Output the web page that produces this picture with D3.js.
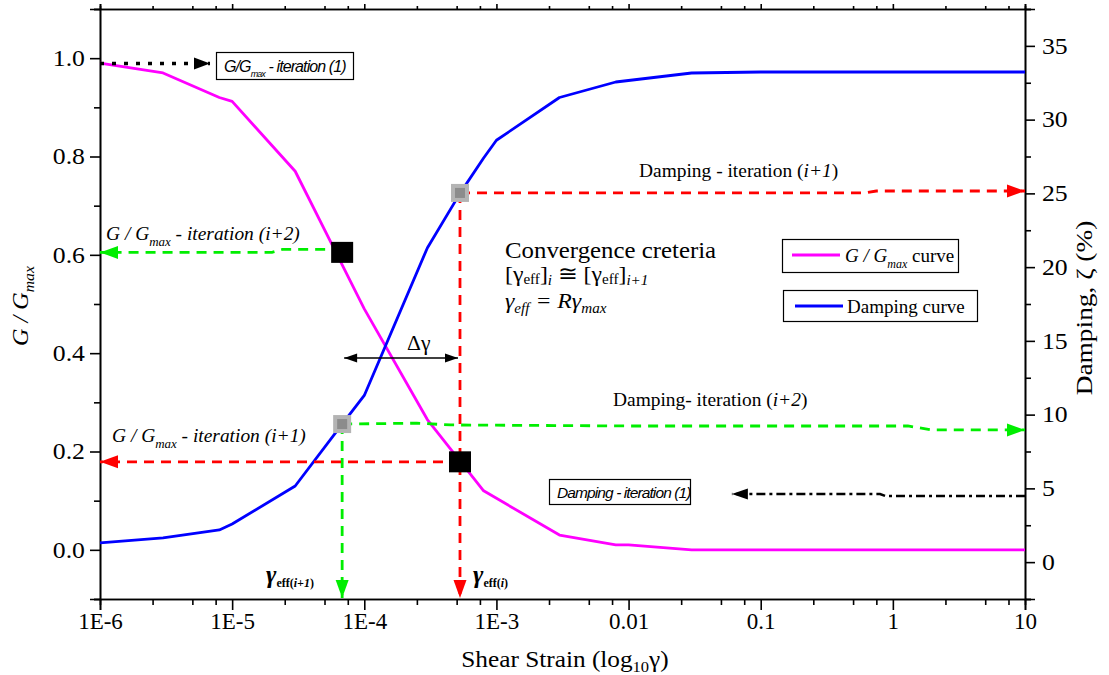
<!DOCTYPE html>
<html><head><meta charset="utf-8">
<script src="https://cdn.jsdelivr.net/npm/d3@7"></script>
<style>body{margin:0;background:#fff}svg{display:block}</style>
</head><body>
<svg id="chart" width="1109" height="675"></svg>
<script>
// Modulus reduction curve (G/Gmax vs shear strain)
const modulusStrain = [1e-6, 3e-6, 8e-6, 1e-5, 3e-5, 1e-4, 3e-4, 8e-4, 3e-3, 8e-3, 1e-2, 3e-2, 10];
const modulusRatio  = [0.99, 0.97, 0.92, 0.912, 0.77, 0.49, 0.265, 0.12, 0.03, 0.01, 0.01, 0.0, 0.0];

// Damping curve (%) vs shear strain
const dampingStrain = [1e-6, 3e-6, 8e-6, 1e-5, 3e-5, 6.8e-5, 1e-4, 3e-4, 5.3e-4, 8e-4, 1e-3, 3e-3, 8e-3, 3e-2, 0.1, 10];
const dampingRatio  = [1.3, 1.64, 2.18, 2.58, 5.16, 9.36, 11.3, 21.3, 25.0, 27.4, 28.6, 31.5, 32.55, 33.16, 33.23, 33.23];

// Effective strains of two successive iterations
const gammaEffI  = 5.3e-4;
const gammaEffI1 = 6.8e-5;

// Iteration read-offs
const gIter1   = [[1e-6, 0.989], [6.8e-6, 0.989]];
const gIterI1  = [[gammaEffI, 0.179], [1e-6, 0.179]];
const gIterI2  = [[gammaEffI1, 0.611], [2.4e-5, 0.611], [2.0e-5, 0.605], [1e-6, 0.605]];
const dIter1   = [[10, 4.48], [0.88, 4.48], [0.8, 4.62], [0.0605, 4.62]];
const dIterI1  = [[gammaEffI, 25.03], [0.62, 25.03], [0.75, 25.16], [10, 25.16]];
const dIterI2  = [[gammaEffI1, 9.36], [2.5e-4, 9.42], [4.5e-4, 9.3], [0.01, 9.23], [1.3, 9.23], [2.0, 8.96], [10, 8.96]];

// Axis ticks
const strainMajor = [1e-6, 1e-5, 1e-4, 1e-3, 1e-2, 0.1, 1, 10];
const strainLabels = ["1E-6", "1E-5", "1E-4", "1E-3", "0.01", "0.1", "1", "10"];
const strainMinorFactors = [2.5, 5, 7.5];
const ratioMajor = [0, 0.2, 0.4, 0.6, 0.8, 1.0];
const ratioMinor = [-0.1, 0.1, 0.3, 0.5, 0.7, 0.9, 1.1];
const dampMajor = [0, 5, 10, 15, 20, 25, 30, 35];
const dampMinor = [-2.5, 2.5, 7.5, 12.5, 17.5, 22.5, 27.5, 32.5, 37.5];

const SERIF = "'Liberation Serif','Times New Roman',serif";
const SANS = "'Liberation Sans',Arial,sans-serif";
const SX = 1.08; // horizontal text stretch

const svg = d3.select("#chart");
const L = 100, R = 1025, T = 9, B = 599;
const x = d3.scaleLog().domain([1e-6, 10]).range([L, R]);
const yL = d3.scaleLinear().domain([-0.1, 1.1]).range([B, T]);
const yR = d3.scaleLinear().domain([-2.5, 37.5]).range([B, T]);

const strainMinor = [];
for (let e = -6; e < 1; e++) strainMinorFactors.forEach(f => strainMinor.push(f * Math.pow(10, e)));

function styleAxis(g, size) {
  g.select(".domain").attr("stroke", "#000").attr("stroke-width", 1.6);
  g.selectAll(".tick line").attr("stroke", "#000").attr("stroke-width", 1.6);
  g.selectAll(".tick text").attr("font-family", SERIF).attr("font-size", size || 23).attr("fill", "#000");
}

// bottom axis
const gb = svg.append("g").attr("transform", `translate(0,${B})`);
gb.call(d3.axisBottom(x).tickValues(strainMajor).tickFormat((d, i) => strainLabels[i]).tickSize(11).tickPadding(3));
styleAxis(gb);
const gbm = svg.append("g").attr("transform", `translate(0,${B})`);
gbm.call(d3.axisBottom(x).tickValues(strainMinor).tickFormat("").tickSize(6));
styleAxis(gbm);
// top axis
const gt = svg.append("g").attr("transform", `translate(0,${T})`);
gt.call(d3.axisTop(x).tickValues(strainMajor).tickFormat("").tickSize(5));
styleAxis(gt);
const gtm = svg.append("g").attr("transform", `translate(0,${T})`);
gtm.call(d3.axisTop(x).tickValues(strainMinor).tickFormat("").tickSize(3));
styleAxis(gtm);
// left axis
const gl = svg.append("g").attr("transform", `translate(${L},0)`);
gl.call(d3.axisLeft(yL).tickValues(ratioMajor).tickFormat(d3.format(".1f")).tickSize(10).tickPadding(4));
styleAxis(gl);
gl.selectAll(".tick text").attr("transform", "scale(1.12,1)").attr("x", -15 / 1.12);
const glm = svg.append("g").attr("transform", `translate(${L},0)`);
glm.call(d3.axisLeft(yL).tickValues(ratioMinor).tickFormat("").tickSize(6));
styleAxis(glm);
// right axis
const gr = svg.append("g").attr("transform", `translate(${R},0)`);
gr.call(d3.axisRight(yR).tickValues(dampMajor).tickFormat(d3.format("d")).tickSize(10).tickPadding(6));
styleAxis(gr);
gr.selectAll(".tick text").attr("transform", "scale(1.12,1)").attr("x", 17 / 1.12);
const grm = svg.append("g").attr("transform", `translate(${R},0)`);
grm.call(d3.axisRight(yR).tickValues(dampMinor).tickFormat("").tickSize(6));
styleAxis(grm);

// rich text helper: segments {t, i, b, fs, dy}
function rich(px, py, segs, o) {
  o = o || {};
  const g = svg.append("g").attr("transform", `translate(${px},${py}) rotate(${o.rot || 0}) scale(${o.sx || SX},1)`);
  const t = g.append("text").attr("x", 0).attr("y", 0)
    .attr("font-family", o.ff || SERIF).attr("font-size", o.fs || 18)
    .attr("text-anchor", o.anchor || "start").attr("fill", "#000")
    .attr("letter-spacing", o.ls || 0);
  if (o.i) t.attr("font-style", "italic");
  if (o.b) t.attr("font-weight", "bold");
  segs.forEach(s => {
    const ts = t.append("tspan").text(s.t);
    if (s.i !== undefined) ts.attr("font-style", s.i ? "italic" : "normal");
    if (s.b) ts.attr("font-weight", "bold");
    if (s.fs) ts.attr("font-size", s.fs);
    if (s.dy) ts.attr("dy", s.dy);
  });
  return t;
}

// curves
const lineG = d3.line().x((d, i) => x(modulusStrain[i])).y(d => yL(d));
svg.append("path").attr("d", lineG(modulusRatio)).attr("fill", "none")
  .attr("stroke", "#ff00ff").attr("stroke-width", 2.8).attr("stroke-linejoin", "round");
const lineD = d3.line().x((d, i) => x(dampingStrain[i])).y(d => yR(d));
svg.append("path").attr("d", lineD(dampingRatio)).attr("fill", "none")
  .attr("stroke", "#0000ff").attr("stroke-width", 2.8).attr("stroke-linejoin", "round");

// arrow helper in pixel coordinates
function arrow(pts, color, dash, width, headL, headW, startHead) {
  svg.append("path").attr("d", d3.line()(pts)).attr("fill", "none")
    .attr("stroke", color).attr("stroke-width", width).attr("stroke-dasharray", dash || null);
  const head = (tip, prev) => {
    const a = Math.atan2(tip[1] - prev[1], tip[0] - prev[0]);
    const bx = tip[0] - headL * Math.cos(a), by = tip[1] - headL * Math.sin(a);
    const nx = -Math.sin(a) * headW, ny = Math.cos(a) * headW;
    svg.append("path").attr("d", `M${tip[0]},${tip[1]}L${bx + nx},${by + ny}L${bx - nx},${by - ny}Z`).attr("fill", color);
  };
  const n = pts.length;
  head(pts[n - 1], pts[n - 2]);
  if (startHead) head(pts[0], pts[1]);
}
const PL = p => [x(p[0]), yL(p[1])];
const PR = p => [x(p[0]), yR(p[1])];

const RED = "#ff0000", GREEN = "#00ee00";

// vertical read-downs to the strain axis
arrow([[x(gammaEffI1), yR(9.36)], [x(gammaEffI1), B - 1]], GREEN, "10,7", 2.8, 18, 6.5);
arrow([[x(gammaEffI), yR(25.03)], [x(gammaEffI), B - 1]], RED, "10,7", 2.8, 18, 6.5);

// horizontal read-offs
arrow(gIterI2.map(PL), GREEN, "10,7", 2.8, 18, 6.5);
arrow(gIterI1.map(PL), RED, "10,7", 2.8, 18, 6.5);
arrow(dIterI1.map(PR), RED, "10,7", 2.8, 18, 6.5);
arrow(dIterI2.map(PR), GREEN, "10,7", 2.8, 18, 6.5);
arrow(gIter1.map(PL), "#000", "4,8", 3.5, 16, 6);
arrow(dIter1.map(PR), "#000", "9,4,3,4", 2.6, 16, 5.5);

// strain difference
arrow([[x(gammaEffI1) + 2, 358], [x(gammaEffI) - 2, 358]], "#000", null, 1.5, 13, 4.5, true);
rich(407, 350, [{ t: "Δγ" }], { fs: 20 });

// markers at iteration points
function marker(sx, yv, scale, kind) {
  const cx = x(sx), cy = scale(yv);
  if (kind === "black") {
    svg.append("rect").attr("x", cx - 11).attr("y", cy - 10.5).attr("width", 22).attr("height", 21).attr("fill", "#000");
  } else {
    svg.append("rect").attr("x", cx - 9).attr("y", cy - 9).attr("width", 18).attr("height", 18).attr("fill", "#b4b4b4");
    svg.append("rect").attr("x", cx - 5).attr("y", cy - 5).attr("width", 10).attr("height", 10).attr("fill", "#8c8c8c");
  }
}
marker(gammaEffI1, 0.605, yL, "black");
marker(gammaEffI, 0.179, yL, "black");
marker(gammaEffI1, 9.36, yR, "gray");
marker(gammaEffI, 25.03, yR, "gray");

// boxed iteration (1) labels
svg.append("rect").attr("x", 216.5).attr("y", 52.5).attr("width", 137).attr("height", 27).attr("fill", "#fff").attr("stroke", "#000").attr("stroke-width", 1.2);
rich(224, 72, [{ t: "G/G" }, { t: "max", fs: 9, dy: 5 }, { t: " - iteration (1)", dy: -5 }], { ff: SANS, fs: 16, i: true, ls: -0.9, sx: 1 });
svg.append("rect").attr("x", 549.5).attr("y", 479.5).attr("width", 141).attr("height", 25).attr("fill", "#fff").attr("stroke", "#000").attr("stroke-width", 1.2);
rich(557, 498, [{ t: "Damping - iteration (1)" }], { ff: SANS, fs: 15.5, i: true, ls: -0.9, sx: 1 });

// iteration labels
rich(106, 240, [{ t: "G / G" }, { t: "max", fs: 12, dy: 6 }, { t: " - iteration (i+2)", dy: -6 }], { fs: 18, i: true });
rich(112, 442, [{ t: "G / G" }, { t: "max", fs: 12, dy: 6 }, { t: " - iteration (i+1)", dy: -6 }], { fs: 18, i: true });
rich(639, 177, [{ t: "Damping - iteration (" }, { t: "i+1", i: true }, { t: ")" }], { fs: 18 });
rich(613, 406, [{ t: "Damping- iteration (" }, { t: "i+2", i: true }, { t: ")" }], { fs: 18 });

// convergence criteria
rich(505, 258, [{ t: "Convergence creteria" }], { fs: 23 });
rich(505, 281, [{ t: "[γ" }, { t: "eff", fs: 14, dy: 3 }, { t: "]", dy: -3 }, { t: "i", i: true, fs: 14, dy: 4 },
  { t: " ≅ [γ", dy: -4 }, { t: "eff", fs: 14, dy: 3 }, { t: "]", dy: -3 }, { t: "i+1", i: true, fs: 14, dy: 4 }], { fs: 22 });
rich(505, 308, [{ t: "γ" }, { t: "eff", fs: 14, dy: 5 }, { t: " = Rγ", dy: -5 }, { t: "max", fs: 14, dy: 5 }], { fs: 22, i: true });

// legend
svg.append("rect").attr("x", 782.5).attr("y", 239.5).attr("width", 176).attr("height", 33).attr("fill", "none").attr("stroke", "#000").attr("stroke-width", 1.2);
svg.append("line").attr("x1", 792).attr("x2", 840).attr("y1", 255).attr("y2", 255).attr("stroke", "#ff00ff").attr("stroke-width", 2.8);
rich(845, 262, [{ t: "G / G", i: true }, { t: "max", i: true, fs: 12, dy: 6 }, { t: " curve", dy: -6 }], { fs: 19, sx: 1.0 });
svg.append("rect").attr("x", 783.5).attr("y", 290.5).attr("width", 194).attr("height", 31).attr("fill", "none").attr("stroke", "#000").attr("stroke-width", 1.2);
svg.append("line").attr("x1", 795).attr("x2", 843).attr("y1", 306).attr("y2", 306).attr("stroke", "#0000ff").attr("stroke-width", 2.8);
rich(847, 313, [{ t: "Damping curve" }], { fs: 19, sx: 1.0 });

// effective strain labels
rich(266, 583, [{ t: "γ", fs: 25 }, { t: "eff(", i: false, fs: 12, dy: 4 }, { t: "i+1", i: true, fs: 12 }, { t: ")", i: false, fs: 12 }], { b: true, i: true, sx: 1 });
rich(473, 583, [{ t: "γ", fs: 25 }, { t: "eff(", i: false, fs: 12, dy: 4 }, { t: "i", i: true, fs: 12 }, { t: ")", i: false, fs: 12 }], { b: true, i: true, sx: 1 });

// axis titles
rich(565, 667, [{ t: "Shear Strain (log" }, { t: "10", fs: 15, dy: 5 }, { t: "γ", dy: -5 }, { t: ")" }], { fs: 23, anchor: "middle", sx: 1.1 });
rich(28, 306, [{ t: "G / G" }, { t: "max", fs: 15, dy: 6 }], { fs: 23, i: true, anchor: "middle", rot: -90, sx: 1.05 });
rich(1092, 308, [{ t: "Damping, ζ (%)" }], { fs: 23, anchor: "middle", rot: -90, sx: 1.19 });
</script>
</body></html>
